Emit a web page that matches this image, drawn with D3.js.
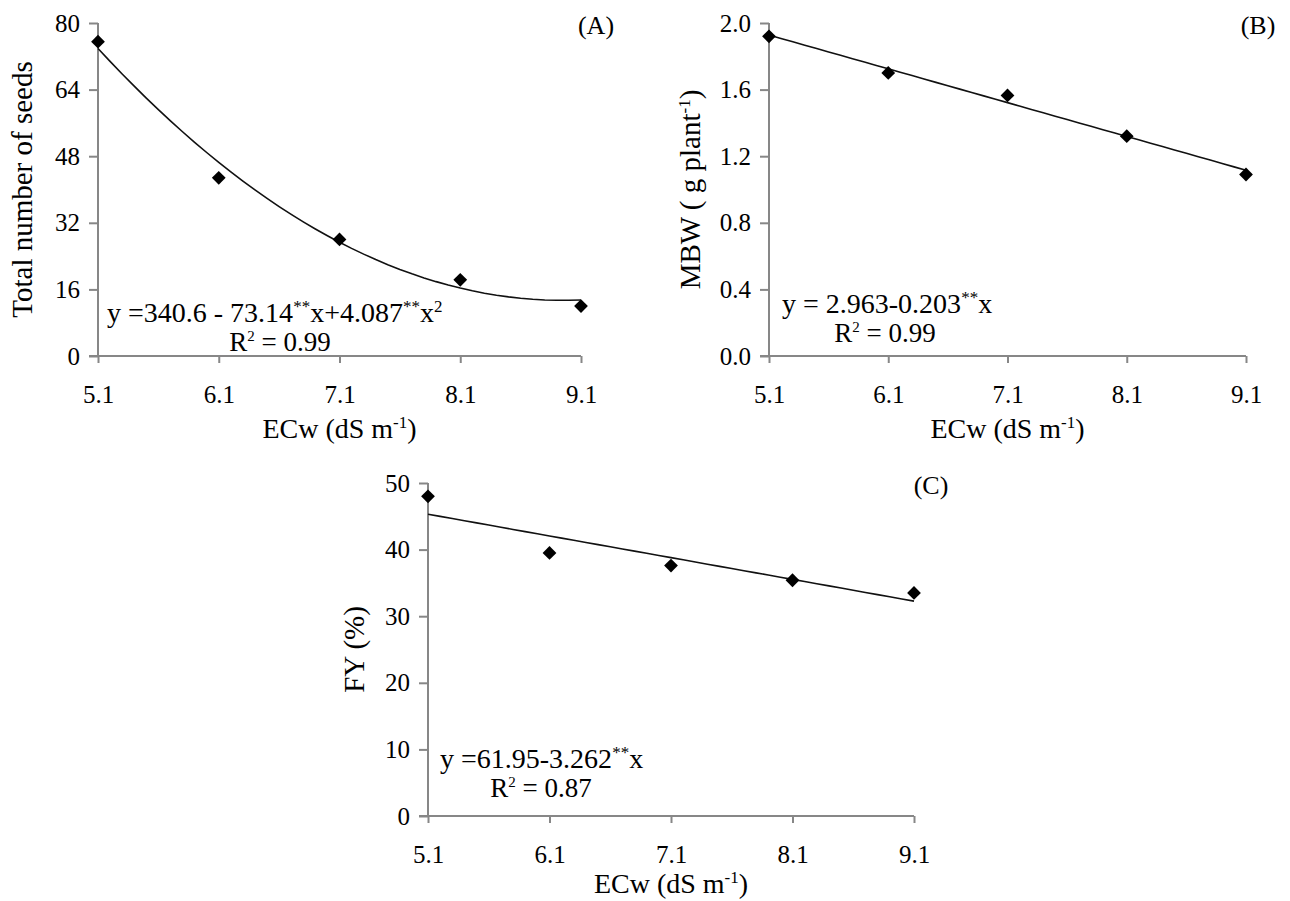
<!DOCTYPE html>
<html>
<head>
<meta charset="utf-8">
<script src="https://cdn.jsdelivr.net/npm/d3@7"></script>
<style>
  body { margin: 0; background: #fff; }
  svg { font-family: "Liberation Serif", "Times New Roman", serif; }
  .axis path, .axis line { stroke: #878787; stroke-width: 2; }
  .axis text { fill: #000; font-size: 25px; }
</style>
</head>
<body>
<svg id="chart" width="1290" height="901"></svg>
<script>
var ECW = [5.1, 6.1, 7.1, 8.1, 9.1];
var SEEDS = [75.5, 42.8, 28.0, 18.3, 12.0];
var MBW = [1.92, 1.70, 1.565, 1.32, 1.09];
var FY = [48.0, 39.5, 37.6, 35.4, 33.5];

var TICKS_A = [0, 16, 32, 48, 64, 80];
var TICKS_B = [0, 0.4, 0.8, 1.2, 1.6, 2.0];
var TICKS_C = [0, 10, 20, 30, 40, 50];

// regression coefficients printed on the chart (c0 + c1*x + c2*x^2)
var FIT_A = [340.6, -73.14, 4.087];
var FIT_B = [2.963, -0.203, 0];
var FIT_C = [61.95, -3.262, 0];

var svg = d3.select("#chart");

function drawPanel(p) {
  var x = d3.scaleLinear().domain([5.1, 9.1]).range([p.left, p.right]);
  var y = d3.scaleLinear().domain([0, p.ticks[p.ticks.length - 1]]).range([p.bottom, p.top]);
  var g = svg.append("g");

  g.append("g")
    .attr("class", "axis")
    .attr("transform", "translate(" + p.left + ",0)")
    .call(d3.axisLeft(y).tickValues(p.ticks).tickSize(9).tickPadding(9)
      .tickFormat(p.fmt))
    .attr("font-family", null)
    .call(function (s) { s.select(".domain").attr("d", "M0," + y(p.ticks[p.ticks.length - 1]) + "V" + p.bottom); });

  g.append("g")
    .attr("class", "axis")
    .attr("transform", "translate(0," + p.bottom + ")")
    .call(d3.axisBottom(x).tickValues(ECW).tickSize(7).tickPadding(22)
      .tickFormat(d3.format(".1f")))
    .attr("font-family", null)
    .call(function (s) { s.select(".domain").attr("d", "M" + (p.left - 9) + ",0H" + p.right); });

  // fitted trend line from the printed equation
  var xs = d3.range(0, 41).map(function (i) { return 5.1 + i * 0.1; });
  var c = p.fit;
  var line = d3.line()
    .x(function (d) { return x(d); })
    .y(function (d) { return y(c[0] + c[1] * d + c[2] * d * d); });
  g.append("path")
    .datum(xs)
    .attr("d", line)
    .attr("fill", "none")
    .attr("stroke", "#111")
    .attr("stroke-width", 1.6);

  g.selectAll(".pt")
    .data(ECW)
    .enter()
    .append("path")
    .attr("class", "pt")
    .attr("d", d3.symbol().type(d3.symbolSquare).size(95))
    .attr("transform", function (d, i) { return "translate(" + x(d) + "," + y(p.values[i]) + ") rotate(45)"; })
    .attr("fill", "#000");

  // panel letter
  g.append("text")
    .attr("x", p.tagX).attr("y", p.top + 11)
    .attr("text-anchor", "middle")
    .attr("font-size", 26)
    .text(p.tag);

  // x title
  var xt = g.append("text")
    .attr("x", (p.left + p.right) / 2).attr("y", p.bottom + p.xTitleDy)
    .attr("text-anchor", "middle")
    .attr("font-size", 28);
  xt.append("tspan").text("ECw (dS m");
  xt.append("tspan").attr("dy", -10).attr("font-size", 17).text("-1");
  xt.append("tspan").attr("dy", 10).text(")");

  // y title
  var yt = g.append("text")
    .attr("transform", "translate(" + p.yTitleX + "," + ((p.top + p.bottom) / 2) + ") rotate(-90)")
    .attr("text-anchor", "middle")
    .attr("font-size", 29);
  p.yTitle(yt);

  // equation
  var eq = g.append("text")
    .attr("x", p.eqX).attr("y", p.eqY)
    .attr("font-size", 28);
  p.eq(eq);

  var r2 = g.append("text")
    .attr("x", p.r2X).attr("y", p.eqY + 29)
    .attr("text-anchor", "middle")
    .attr("font-size", 27);
  r2.append("tspan").text("R");
  r2.append("tspan").attr("dy", -10).attr("font-size", 15).text("2");
  r2.append("tspan").attr("dy", 10).text(" = " + p.r2);
}

function sup(t, s) {
  t.append("tspan").attr("dy", -10).attr("font-size", 17).text(s);
  return t.append("tspan").attr("dy", 10);
}

drawPanel({
  left: 98, right: 581, top: 23, bottom: 356,
  ticks: TICKS_A, fmt: d3.format("d"), values: SEEDS, fit: FIT_A,
  tag: "(A)", tagX: 596, yTitleX: 32, xTitleDy: 82, eqX: 107, eqY: 322, r2X: 280, r2: "0.99",
  yTitle: function (t) { t.text("Total number of seeds"); },
  eq: function (t) {
    t.append("tspan").text("y =340.6 - 73.14");
    sup(t, "**").text("x+4.087");
    sup(t, "**").text("x");
    t.append("tspan").attr("dy", -10).attr("font-size", 17).text("2");
  }
});

drawPanel({
  left: 769, right: 1246, top: 23, bottom: 356,
  ticks: TICKS_B, fmt: d3.format(".1f"), values: MBW, fit: FIT_B,
  tag: "(B)", tagX: 1258, yTitleX: 700, xTitleDy: 82, eqX: 782, eqY: 313, r2X: 885, r2: "0.99",
  yTitle: function (t) {
    t.append("tspan").text("MBW ( g plant");
    t.append("tspan").attr("dy", -10).attr("font-size", 17).text("-1");
    t.append("tspan").attr("dy", 10).text(")");
  },
  eq: function (t) {
    t.append("tspan").text("y = 2.963-0.203");
    sup(t, "**").text("x");
  }
});

drawPanel({
  left: 428, right: 914, top: 483, bottom: 816,
  ticks: TICKS_C, fmt: d3.format("d"), values: FY, fit: FIT_C,
  tag: "(C)", tagX: 931, yTitleX: 364, xTitleDy: 77, eqX: 440, eqY: 768, r2X: 541, r2: "0.87",
  yTitle: function (t) { t.text("FY (%)"); },
  eq: function (t) {
    t.append("tspan").text("y =61.95-3.262");
    sup(t, "**").text("x");
  }
});
</script>
</body>
</html>
